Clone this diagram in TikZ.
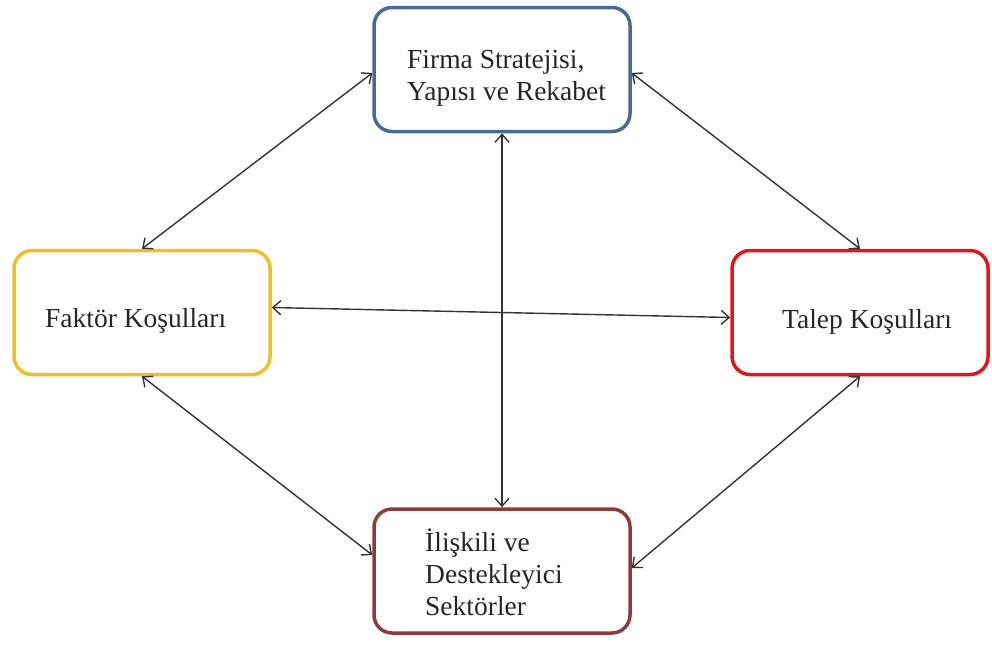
\documentclass[tikz,border=0pt]{standalone}
\usepackage{fontspec}
\setmainfont{Liberation Serif}
\usetikzlibrary{arrows.meta}
\definecolor{cblue}{HTML}{4A6A91}
\definecolor{cgold}{HTML}{F0BE28}
\definecolor{cred}{HTML}{E0161E}
\definecolor{cmaroon}{HTML}{8E3B3E}
\definecolor{cline}{HTML}{333333}
\tikzset{
  box/.style={draw, line width=3.5pt, rounded corners=18pt, fill=white,
    minimum width=256pt, minimum height=124pt, inner sep=0pt},
  lbl/.style={inner sep=0pt, font=\fontsize{27.5}{32}\selectfont, text=black!85, align=left},
  link/.style={draw=cline, line width=1.4pt,
    {Straight Barb[length=8pt,width=14pt]}-{Straight Barb[length=8pt,width=14pt]}}
}
\begin{document}
\begin{tikzpicture}[x=1pt,y=-1pt]
\useasboundingbox (0,0) rectangle (992,645);
\node[box, draw=cblue]   (top) at (502,69.5) {};
\node[box, draw=cgold]   (lft) at (142,312.5) {};
\node[box, draw=cred]    (rgt) at (860,312.5) {};
\node[box, draw=cmaroon] (bot) at (502,571) {};
\node[lbl, anchor=base west] (toptxt) at (407,100) {Firma Stratejisi,\\Yapısı ve Rekabet};
\node[lbl, anchor=base west] (lfttxt) at (45,327) {Faktör Koşulları};
\node[lbl, anchor=base west] (rgttxt) at (782,328) {Talep Koşulları};
\node[lbl, anchor=base west] (bottxt) at (425,615) {İlişkili ve\\Destekleyici\\Sektörler};
\draw[link] ([yshift=-3.5pt]top.west) -- (lft.north);
\draw[link] ([yshift=-3.5pt]top.east) -- (rgt.north);
\draw[link] ([yshift=5pt]lft.east) -- ([yshift=-5pt]rgt.west);
\draw[link] (top.south) -- (bot.north);
\draw[link] (lft.south) -- ([yshift=16pt]bot.west);
\draw[link] (rgt.south) -- ([yshift=3pt]bot.east);
\end{tikzpicture}
\end{document}
